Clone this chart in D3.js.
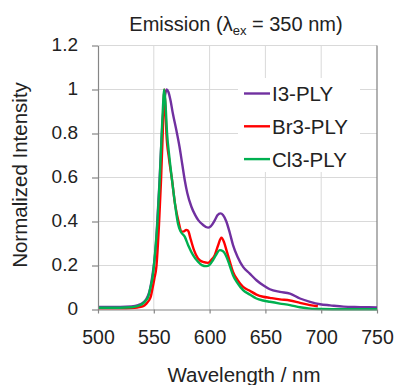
<!DOCTYPE html>
<html>
<head>
<meta charset="utf-8">
<script src="https://cdn.jsdelivr.net/npm/d3@7"></script>
<style>
  body { margin: 0; background: #fff; }
  text { font-family: "Liberation Sans", Arial, sans-serif; fill: #222; }
</style>
</head>
<body>
<div class="chart"></div>
<script>
// Tick values and labels
var xTicks = [500, 550, 600, 650, 700, 750];
var yTicks = [0, 0.2, 0.4, 0.6, 0.8, 1, 1.2];
var yTickLabels = ["0", "0.2", "0.4", "0.6", "0.8", "1", "1.2"];

var seriesNames = ["I3-PLY", "Br3-PLY", "Cl3-PLY"];
var seriesColors = ["#7030a0", "#ff0000", "#00b050"];

// I3-PLY
var i3Wl = [500, 510, 520, 530, 536, 540, 543, 546, 548, 550, 552, 553, 555, 557, 558.5, 560, 561.5, 563, 565,
    567, 570, 573, 575.5, 577.7, 580, 583.7, 587, 590, 594, 598.6, 601, 604.6, 607, 609.7, 612, 615, 618,
    621, 625, 630, 636, 642, 648, 654, 663, 672, 681, 690, 699, 708, 720, 735, 750];
var i3Val = [0.012, 0.012, 0.012, 0.014, 0.02, 0.03, 0.045, 0.08, 0.13, 0.2, 0.3, 0.39, 0.57, 0.78, 0.9, 0.97, 1.0, 0.99, 0.95,
    0.893, 0.82, 0.741, 0.66, 0.589, 0.53, 0.467, 0.43, 0.405, 0.385, 0.372, 0.378, 0.405, 0.428, 0.437, 0.43, 0.4, 0.35,
    0.293, 0.24, 0.194, 0.163, 0.133, 0.11, 0.092, 0.08, 0.072, 0.05, 0.035, 0.024, 0.019, 0.013, 0.011, 0.009];

// Br3-PLY
var br3Wl = [500, 520, 530, 535, 540, 543.4, 545.5, 547.2, 549, 550.5, 552.3, 554.7, 556.5, 558, 558.8, 559.4, 560.3,
    561.3, 563.5, 566.3, 569, 572.6, 574.7, 577, 579, 580.7, 583, 586, 589.6, 594, 598.6, 601.5, 604.6, 607.5,
    610.6, 613, 615.1, 618, 621, 625, 630, 636, 642, 648, 654, 663, 672, 681, 690, 697];
var br3Val = [0.006, 0.006, 0.007, 0.009, 0.014, 0.027, 0.04, 0.057, 0.1, 0.14, 0.194, 0.39, 0.59, 0.8, 0.93, 1.0, 0.93,
    0.8, 0.69, 0.59, 0.48, 0.39, 0.354, 0.355, 0.362, 0.358, 0.32, 0.27, 0.232, 0.216, 0.212, 0.225, 0.247, 0.29,
    0.326, 0.305, 0.27, 0.22, 0.171, 0.135, 0.103, 0.085, 0.068, 0.058, 0.053, 0.046, 0.041, 0.03, 0.02, 0.015];

// Cl3-PLY
var cl3Wl = [500, 520, 530, 535, 540, 543, 545, 547, 549, 550, 551.5, 553.2, 555.3, 557.1, 558.3, 559.2, 560.3, 561.9,
    564, 566.3, 569, 571.7, 574, 577.7, 581, 585.2, 589.6, 593, 597, 600, 603.1, 606, 609.1, 612, 615.1, 618,
    621, 625, 630, 636, 642, 648, 654, 663, 672, 681, 690, 700, 720, 750];
var cl3Val = [0.008, 0.008, 0.01, 0.015, 0.026, 0.042, 0.058, 0.1, 0.15, 0.194, 0.28, 0.39, 0.59, 0.8, 0.93, 1.0, 0.95, 0.8,
    0.69, 0.59, 0.48, 0.39, 0.355, 0.331, 0.29, 0.247, 0.217, 0.202, 0.197, 0.203, 0.225, 0.25, 0.27, 0.265, 0.24, 0.2,
    0.156, 0.12, 0.088, 0.068, 0.05, 0.041, 0.035, 0.027, 0.02, 0.01, 0.004, 0.002, 0.001, 0.001];

var svgWidth = 397;
var svgHeight = 385;

var plot = { left: 98, right: 377, top: 45.5, bottom: 309.5 };

var svg = d3.select(".chart")
    .append("svg")
    .attr("width", svgWidth)
    .attr("height", svgHeight);

var x = d3.scaleLinear().domain([500, 750]).range([plot.left, plot.right]);
var y = d3.scaleLinear().domain([0, 1.2]).range([plot.bottom, plot.top]);

// gridlines
svg.append("g")
    .selectAll("line")
    .data(yTicks.slice(1))
    .enter()
    .append("line")
    .attr("x1", plot.left).attr("x2", plot.right)
    .attr("y1", function(d) { return y(d); })
    .attr("y2", function(d) { return y(d); })
    .attr("stroke", "#d9d9d9")
    .attr("stroke-width", 1);

svg.append("g")
    .selectAll("line")
    .data(xTicks.slice(1, -1))
    .enter()
    .append("line")
    .attr("x1", function(d) { return x(d); })
    .attr("x2", function(d) { return x(d); })
    .attr("y1", plot.top).attr("y2", plot.bottom)
    .attr("stroke", "#d9d9d9")
    .attr("stroke-width", 1);

// right edge of plot area
svg.append("line")
    .attr("x1", x(750)).attr("x2", x(750))
    .attr("y1", plot.top).attr("y2", plot.bottom)
    .attr("stroke", "#7f7f7f")
    .attr("stroke-width", 1.2);

// legend background hides gridlines behind it
svg.append("rect")
    .attr("x", 238).attr("y", 78)
    .attr("width", 122).attr("height", 94)
    .attr("fill", "#fff");

var line = d3.line()
    .x(function(d) { return x(d[0]); })
    .y(function(d) { return y(d[1]); })
    .curve(d3.curveMonotoneX);

var series = [
    { name: seriesNames[0], color: seriesColors[0], pts: d3.zip(i3Wl, i3Val) },
    { name: seriesNames[1], color: seriesColors[1], pts: d3.zip(br3Wl, br3Val) },
    { name: seriesNames[2], color: seriesColors[2], pts: d3.zip(cl3Wl, cl3Val) }
];

svg.append("g")
    .selectAll("path")
    .data(series)
    .enter()
    .append("path")
    .attr("d", function(s) { return line(s.pts); })
    .attr("fill", "none")
    .attr("stroke", function(s) { return s.color; })
    .attr("stroke-width", 2.4)
    .attr("stroke-linejoin", "round");

// axes
var leftAxis = d3.axisLeft(y)
    .tickValues(yTicks)
    .tickFormat(function(d, i) { return yTickLabels[i]; })
    .tickSize(6)
    .tickSizeOuter(0)
    .tickPadding(14);

var bottomAxis = d3.axisBottom(x)
    .tickValues(xTicks)
    .tickFormat(d3.format("d"))
    .tickSize(4)
    .tickSizeOuter(0)
    .tickPadding(17);

var gy = svg.append("g")
    .attr("transform", "translate(" + plot.left + ",0)")
    .call(leftAxis);
gy.selectAll("text")
    .attr("dy", "0.26em")
    .style("font-size", "19px")
    .style("font-family", "'Liberation Sans', Arial, sans-serif")
    .attr("fill", "#222");

var gx = svg.append("g")
    .attr("transform", "translate(0," + plot.bottom + ")")
    .call(bottomAxis);
gx.selectAll("text")
    .style("font-size", "19.5px")
    .style("font-family", "'Liberation Sans', Arial, sans-serif")
    .attr("fill", "#222");

[gx, gy].forEach(function(g) {
    g.select(".domain").attr("stroke", "#868686").attr("stroke-width", 1.2);
    g.selectAll(".tick line").attr("stroke", "#868686").attr("stroke-width", 1.2);
});

// legend
var legend = svg.append("g")
    .selectAll("g")
    .data(series)
    .enter()
    .append("g")
    .attr("transform", function(d, i) { return "translate(244," + (93.5 + i * 32.8) + ")"; });

legend.append("line")
    .attr("x1", 0).attr("x2", 26)
    .attr("y1", 0).attr("y2", 0)
    .attr("stroke", function(d) { return d.color; })
    .attr("stroke-width", 2.4);

legend.append("text")
    .attr("x", 28)
    .attr("y", 7.5)
    .style("font-size", "20.5px")
    .text(function(d) { return d.name; });

// title with subscript
var title = svg.append("text")
    .attr("x", 236)
    .attr("y", 30.5)
    .attr("text-anchor", "middle")
    .style("font-size", "20px");
title.append("tspan").text("Emission (λ");
title.append("tspan").attr("dy", 4).style("font-size", "13px").text("ex");
title.append("tspan").attr("dy", -4).text(" = 350 nm)");

// axis labels
svg.append("text")
    .attr("transform", "translate(27,175) rotate(-90)")
    .attr("text-anchor", "middle")
    .style("font-size", "20.5px")
    .text("Normalized Intensity");

svg.append("text")
    .attr("x", 244)
    .attr("y", 382)
    .attr("text-anchor", "middle")
    .style("font-size", "20.5px")
    .text("Wavelength / nm");
</script>
</body>
</html>
